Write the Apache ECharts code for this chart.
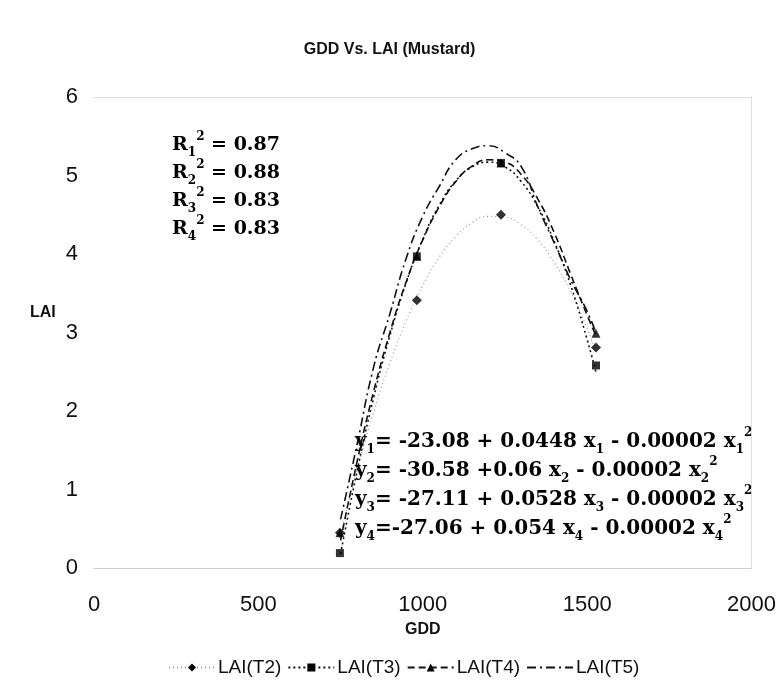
<!DOCTYPE html>
<html>
<head>
<meta charset="utf-8">
<title>GDD Vs. LAI (Mustard)</title>
<script src="https://cdn.jsdelivr.net/npm/echarts@6/dist/echarts.min.js"></script>
<style>
  html, body { margin: 0; padding: 0; background: #fff; }
  #chart { width: 779px; height: 682px; }
</style>
</head>
<body>
<div id="chart"></div>
<script>
// observed points (GDD, LAI)
const gdd = [748, 982, 1238, 1527]
const laiT2 = [0.45, 3.41, 4.50, 2.81]
const laiT3 = [0.19, 3.97, 5.16, 2.58]
const laiT4 = [0.45, 3.97, 5.16, 2.99]

// trend lines
const trendX = [750, 800, 850, 900, 950, 1000, 1050, 1100, 1150, 1200, 1250, 1300, 1350, 1400, 1450, 1500, 1527]
const trendT2 = [0.43, 1.25, 1.98, 2.61, 3.15, 3.60, 3.96, 4.22, 4.40, 4.48, 4.47, 4.37, 4.18, 3.89, 3.52, 3.05, 2.76]
const trendT3 = [0.18, 1.23, 2.16, 2.96, 3.64, 4.19, 4.62, 4.93, 5.11, 5.17, 5.11, 4.92, 4.60, 4.16, 3.60, 2.91, 2.49]
const trendT4 = [0.35, 1.35, 2.24, 3.00, 3.65, 4.18, 4.60, 4.92, 5.12, 5.20, 5.17, 5.01, 4.70, 4.27, 3.74, 3.22, 2.96]
const trendT5 = [0.62, 1.57, 2.55, 3.24, 3.95, 4.48, 4.86, 5.20, 5.34, 5.38, 5.29, 5.11, 4.60, 4.14, 3.67, 3.27, 2.99]

const rSquared = ['0.87', '0.88', '0.83', '0.83']
const equations = [
  ['1', '= -23.08 + 0.0448 x', ' - 0.00002 x'],
  ['2', '= -30.58 +0.06 x', ' - 0.00002 x'],
  ['3', '= -27.11 + 0.0528 x', ' - 0.00002 x'],
  ['4', '=-27.06 + 0.054 x', ' - 0.00002 x']
]

const pairs = (xs, ys) => xs.map((x, i) => [x, ys[i]])

const SANS = "'Liberation Sans', Arial, sans-serif"

const serifRich = (size) => ({
  r: { fontFamily: 'DejaVu Serif', fontWeight: 'bold', fontSize: size, color: '#000', lineHeight: size + 9 },
  sub: { fontFamily: 'DejaVu Serif', fontWeight: 'bold', fontSize: 12, color: '#000', lineHeight: 12, verticalAlign: 'bottom' },
  sup: { fontFamily: 'DejaVu Serif', fontWeight: 'bold', fontSize: 12, color: '#000', lineHeight: 12, verticalAlign: 'top' }
})

const rText = rSquared.map((v, i) => `{r|R}{sub|${i + 1}}{sup|2}{r| = ${v}}`).join('\n')
const eqText = equations.map(e => `{r|y}{sub|${e[0]}}{r|${e[1]}}{sub|${e[0]}}{r|${e[2]}}{sub|${e[0]}}{sup|2}`).join('\n')

const chart = echarts.init(document.getElementById('chart'))

const trendLine = (name, data, color, type, width, symbol, symbolSize) => ({
  name,
  type: 'line',
  data: pairs(trendX, data),
  smooth: true,
  showSymbol: false,
  symbol,
  symbolSize,
  itemStyle: { color: '#000' },
  lineStyle: { color, type, width },
  z: 2
})

const markers = (name, ys, symbol, size) => ({
  name,
  type: 'scatter',
  data: pairs(gdd, ys),
  symbol,
  symbolSize: size,
  itemStyle: { color: '#000' },
  z: 3
})

// faint dotted frame of the plot area
const frameLine = { show: true, onZero: false, lineStyle: { color: '#d6d6d6', type: 'dotted', width: 1 } }

const option = {
  animation: false,
  title: {
    text: 'GDD Vs. LAI (Mustard)',
    left: 'center',
    top: 37,
    textStyle: { fontFamily: SANS, fontSize: 16, fontWeight: 'bold', color: '#111' }
  },
  grid: { left: 94, right: 27, top: 97, bottom: 114 },
  xAxis: [
    {
      type: 'value',
      min: 0,
      max: 2000,
      interval: 500,
      name: 'GDD',
      nameLocation: 'middle',
      nameGap: 54,
      nameTextStyle: { fontFamily: SANS, fontSize: 16, fontWeight: 'bold', color: '#111' },
      axisLine: { show: true, onZero: false, lineStyle: { color: '#c4c4c4', type: 'dotted', width: 1 } },
      axisTick: { show: false },
      splitLine: { show: false },
      axisLabel: { fontFamily: SANS, fontSize: 22, color: '#111', margin: 26, formatter: v => String(v) }
    },
    {
      type: 'value',
      min: 0,
      max: 2000,
      position: 'top',
      axisLine: frameLine,
      axisTick: { show: false },
      axisLabel: { show: false },
      splitLine: { show: false }
    }
  ],
  yAxis: [
    {
      type: 'value',
      min: 0,
      max: 6,
      interval: 1,
      axisLine: { show: false },
      axisTick: { show: false },
      splitLine: { show: false },
      axisLabel: { fontFamily: SANS, fontSize: 22, color: '#111', margin: 16 }
    },
    {
      type: 'value',
      min: 0,
      max: 6,
      position: 'right',
      axisLine: frameLine,
      axisTick: { show: false },
      axisLabel: { show: false },
      splitLine: { show: false }
    }
  ],
  legend: {
    data: [
      'LAI(T2)',
      'LAI(T3)',
      'LAI(T4)',
      { name: 'LAI(T5)', itemStyle: { opacity: 0 } }
    ],
    left: 163,
    top: 653,
    itemWidth: 46,
    itemHeight: 10,
    itemGap: 6,
    textStyle: { fontFamily: SANS, fontSize: 19, color: '#111', padding: [0, 0, 0, -2] }
  },
  graphic: [
    {
      type: 'text',
      left: 30,
      top: 305,
      style: { text: 'LAI', fontFamily: SANS, fontSize: 16, fontWeight: 'bold', fill: '#111' }
    },
    {
      type: 'text',
      left: 172,
      top: 131,
      style: { text: rText, rich: serifRich(19) }
    },
    {
      type: 'text',
      left: 355,
      top: 427,
      style: { text: eqText, rich: serifRich(20) }
    }
  ],
  series: [
    trendLine('LAI(T2)', trendT2, '#9a9a9a', [1, 3], 1.2, 'diamond', 9),
    trendLine('LAI(T3)', trendT3, '#111', [2, 3], 1.6, 'rect', 8),
    trendLine('LAI(T4)', trendT4, '#111', [7, 4], 1.6, 'triangle', 9),
    trendLine('LAI(T5)', trendT5, '#111', [9, 4, 2, 4], 1.6, 'none', 0),
    markers('LAI(T2)', laiT2, 'diamond', 10),
    markers('LAI(T3)', laiT3, 'rect', 8),
    markers('LAI(T4)', laiT4, 'triangle', 9)
  ]
}

chart.setOption(option)
</script>
</body>
</html>
